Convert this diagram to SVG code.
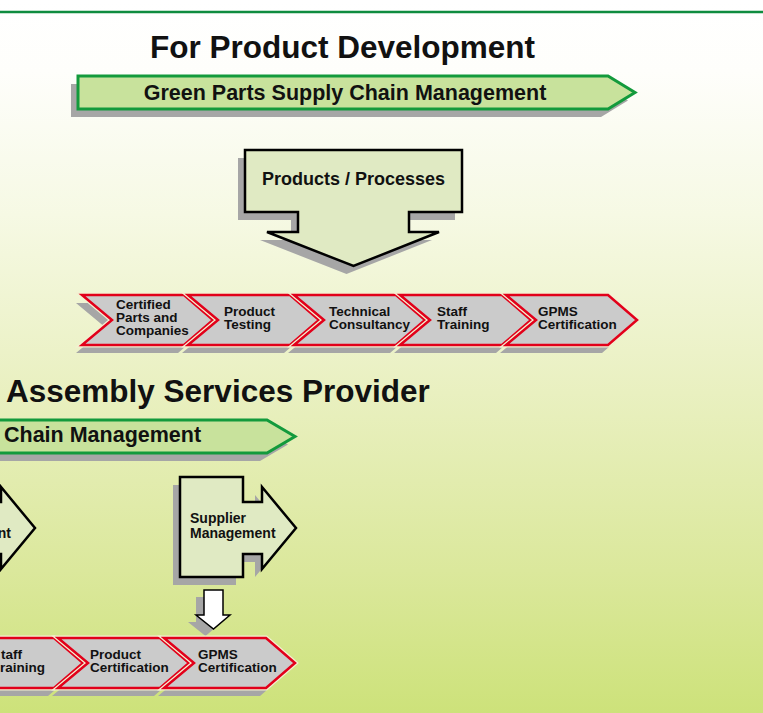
<svg xmlns="http://www.w3.org/2000/svg" xmlns:xlink="http://www.w3.org/1999/xlink" width="763" height="713" viewBox="0 0 763 713">
  <style>
    text { font-family: "Liberation Sans", Arial, sans-serif; font-weight: bold; fill: #111; }
    .title { font-size: 31.5px; }
    .bantxt { font-size: 21.5px; }
    .blocktxt { font-size: 18px; }
    .nodetxt { font-size: 14px; }
    .chevtxt { font-size: 13.5px; }
    .shadow { fill: #a6a6a6; stroke: none; }
    .banner { fill: #c8e29c; stroke: #139a3c; stroke-width: 3; stroke-linejoin: miter; }
    .block { fill: #e0eac3; stroke: #000; stroke-width: 2.5; stroke-linejoin: miter; }
    .halo { fill: none; stroke: #f3f0d2; stroke-width: 5; stroke-linejoin: miter; }
    .chev { fill: #cbcbcb; stroke: #e2001a; stroke-width: 2.5; stroke-linejoin: miter; }
    .flow { fill: #fff; stroke: #000; stroke-width: 1.5; }
  </style>
  <defs>
    <linearGradient id="bg" x1="0" y1="0" x2="0" y2="1">
      <stop offset="0" stop-color="#ffffff"/>
      <stop offset="0.1" stop-color="#fefefb"/>
      <stop offset="0.3" stop-color="#f6f9e4"/>
      <stop offset="0.55" stop-color="#e9f0c0"/>
      <stop offset="0.8" stop-color="#dbe89c"/>
      <stop offset="1" stop-color="#cde27a"/>
    </linearGradient>
    <!-- process chevron, 50 high, notch 30 deep -->
    <path id="chevron" d="M0,0 L102,0 L131,25 L102,50 L0,50 L30,25 Z"/>
    <!-- block arrow pointing right: body, neck, head -->
    <path id="rightArrow" d="M0,0 L63,0 L63,25 L82,25 L82,10 L116,51 L82,92 L82,77 L63,77 L63,100 L0,100 Z"/>
  </defs>

  <!-- background -->
  <rect x="0" y="0" width="763" height="713" fill="url(#bg)"/>
  <line x1="0" y1="12" x2="763" y2="12" stroke="#0f8c3f" stroke-width="2.5"/>

  <!-- upper section -->
  <g id="title-product-development">
    <text class="title" x="342.5" y="58" text-anchor="middle">For Product Development</text>
  </g>

  <g id="banner-gpscm">
    <path class="shadow" d="M71,84 L601,84 L628,100.5 L601,117 L71,117 Z"/>
    <path class="banner" d="M78,76 L608,76 L635,92.5 L608,109 L78,109 Z"/>
    <text class="bantxt" x="345" y="100" text-anchor="middle">Green Parts Supply Chain Management</text>
  </g>

  <g id="node-products-processes">
    <path class="shadow" transform="translate(-7,8)" d="M245,150 L462,150 L462,212 L409,212 L409,232 L439,232 L353.5,266 L267,232 L298,232 L298,212 L245,212 Z"/>
    <path class="block" d="M245,150 L462,150 L462,212 L409,212 L409,232 L439,232 L353.5,266 L267,232 L298,232 L298,212 L245,212 Z"/>
    <text class="blocktxt" x="353.5" y="185" text-anchor="middle">Products / Processes</text>
  </g>

  <!-- shadows of the upper chevron row -->
  <g id="row1-shadows">
    <use xlink:href="#chevron" class="shadow" x="76" y="303"/>
    <use xlink:href="#chevron" class="shadow" x="182" y="303"/>
    <use xlink:href="#chevron" class="shadow" x="288" y="303"/>
    <use xlink:href="#chevron" class="shadow" x="394" y="303"/>
    <use xlink:href="#chevron" class="shadow" x="500" y="303"/>
  </g>

  <g id="step-certified-parts">
    <use xlink:href="#chevron" class="halo" x="82" y="295"/>
    <use xlink:href="#chevron" class="chev" x="82" y="295"/>
    <text class="chevtxt" x="116" y="309">Certified</text>
    <text class="chevtxt" x="116" y="322">Parts and</text>
    <text class="chevtxt" x="116" y="335">Companies</text>
  </g>
  <g id="step-product-testing">
    <use xlink:href="#chevron" class="halo" x="188" y="295"/>
    <use xlink:href="#chevron" class="chev" x="188" y="295"/>
    <text class="chevtxt" x="224" y="316">Product</text>
    <text class="chevtxt" x="224" y="329">Testing</text>
  </g>
  <g id="step-technical-consultancy">
    <use xlink:href="#chevron" class="halo" x="294" y="295"/>
    <use xlink:href="#chevron" class="chev" x="294" y="295"/>
    <text class="chevtxt" x="329" y="316">Technical</text>
    <text class="chevtxt" x="329" y="329">Consultancy</text>
  </g>
  <g id="step-staff-training">
    <use xlink:href="#chevron" class="halo" x="400" y="295"/>
    <use xlink:href="#chevron" class="chev" x="400" y="295"/>
    <text class="chevtxt" x="437" y="316">Staff</text>
    <text class="chevtxt" x="437" y="329">Training</text>
  </g>
  <g id="step-gpms-certification">
    <use xlink:href="#chevron" class="halo" x="506" y="295"/>
    <use xlink:href="#chevron" class="chev" x="506" y="295"/>
    <text class="chevtxt" x="538" y="316">GPMS</text>
    <text class="chevtxt" x="538" y="329">Certification</text>
  </g>

  <!-- lower section -->
  <g id="title-assembly-services">
    <text class="title" x="6" y="402">Assembly Services Provider</text>
  </g>

  <g id="banner-chain-management">
    <path class="shadow" d="M-30,428 L260,428 L288,444.5 L260,461 L-30,461 Z"/>
    <path class="banner" d="M-30,420 L267,420 L295,436.5 L267,453 L-30,453 Z"/>
    <text class="bantxt" x="4" y="442">Chain Management</text>
  </g>

  <g id="node-left-management">
    <use xlink:href="#rightArrow" class="shadow" x="-88" y="485"/>
    <use xlink:href="#rightArrow" class="block" x="-81" y="477"/>
    <text class="nodetxt" x="11" y="538" text-anchor="end">nt</text>
  </g>

  <g id="node-supplier-management">
    <use xlink:href="#rightArrow" class="shadow" x="173" y="485"/>
    <use xlink:href="#rightArrow" class="block" x="180" y="477"/>
    <text class="nodetxt" x="190" y="523">Supplier</text>
    <text class="nodetxt" x="190" y="538">Management</text>
  </g>

  <g id="connectors">
    <path class="shadow" transform="translate(-8,7)" d="M204,590 L223,590 L223,615 L230,615 L213.5,629 L196,615 L204,615 Z"/>
    <path class="flow" d="M204,590 L223,590 L223,615 L230,615 L213.5,629 L196,615 L204,615 Z"/>
  </g>

  <!-- shadows of the lower chevron row -->
  <g id="row2-shadows">
    <use xlink:href="#chevron" class="shadow" x="-54" y="646"/>
    <use xlink:href="#chevron" class="shadow" x="52" y="646"/>
    <use xlink:href="#chevron" class="shadow" x="158" y="646"/>
  </g>

  <g id="step2-staff-training">
    <use xlink:href="#chevron" class="halo" x="-48" y="638"/>
    <use xlink:href="#chevron" class="chev" x="-48" y="638"/>
    <text class="chevtxt" x="1" y="659">taff</text>
    <text class="chevtxt" x="0" y="672">raining</text>
  </g>
  <g id="step2-product-certification">
    <use xlink:href="#chevron" class="halo" x="58" y="638"/>
    <use xlink:href="#chevron" class="chev" x="58" y="638"/>
    <text class="chevtxt" x="90" y="659">Product</text>
    <text class="chevtxt" x="90" y="672">Certification</text>
  </g>
  <g id="step2-gpms-certification">
    <use xlink:href="#chevron" class="halo" x="164" y="638"/>
    <use xlink:href="#chevron" class="chev" x="164" y="638"/>
    <text class="chevtxt" x="198" y="659">GPMS</text>
    <text class="chevtxt" x="198" y="672">Certification</text>
  </g>
</svg>
